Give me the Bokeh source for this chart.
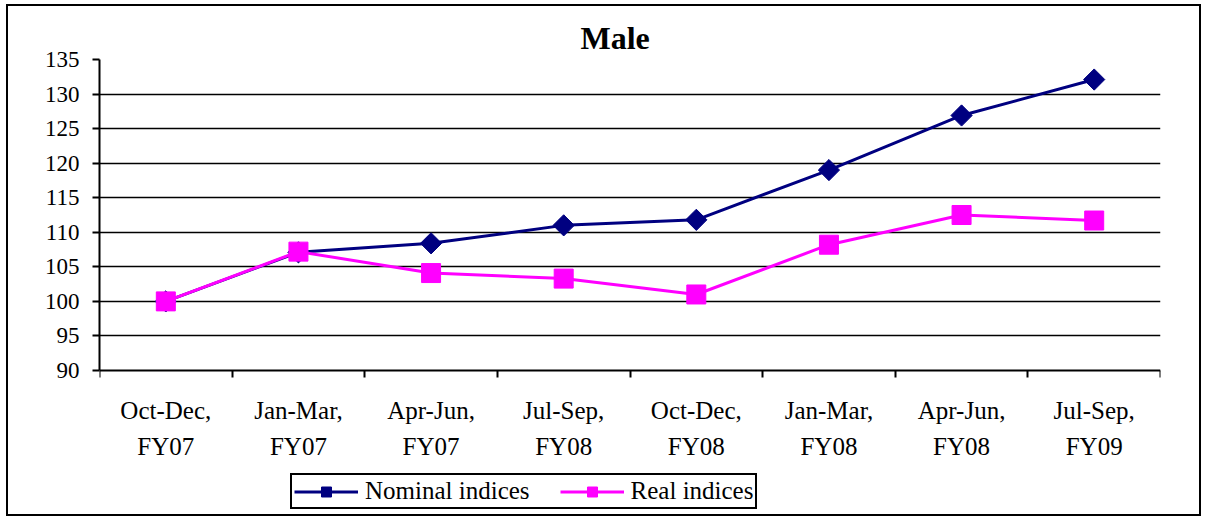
import math
from bokeh.plotting import figure
from bokeh.models import (ColumnDataSource, FixedTicker, Legend, LegendItem, Range1d, Grid)
from bokeh.embed import file_html
from bokeh.resources import INLINE

categories = ["Oct-Dec,\nFY07", "Jan-Mar,\nFY07", "Apr-Jun,\nFY07", "Jul-Sep,\nFY08",
              "Oct-Dec,\nFY08", "Jan-Mar,\nFY08", "Apr-Jun,\nFY08", "Jul-Sep,\nFY09"]
nominal = [100.0, 107.1, 108.4, 111.0, 111.8, 119.0, 126.9, 132.1]
real = [100.0, 107.2, 104.1, 103.3, 101.0, 108.2, 112.5, 111.7]
y_ticks = [90, 95, 100, 105, 110, 115, 120, 125, 130, 135]

FONT = "Liberation Serif"
n = len(categories)
xs = [i + 0.5 for i in range(n)]
src = ColumnDataSource(dict(x=xs, nominal=nominal, real=real))

# layout geometry (canvas pixels)
W, H = 1195, 512
TOP, BOTTOM_BORDER = 53, 2
AXIS_PX = 311            # pixel height of the 90..135 band
frame_h = H - TOP - BOTTOM_BORDER
ymin, ymax = y_ticks[0], y_ticks[-1]
y_start = ymax - frame_h * (ymax - ymin) / AXIS_PX

p = figure(width=W, height=H, output_backend="svg", toolbar_location=None,
           x_range=Range1d(0, n), y_range=Range1d(y_start, ymax),
           min_border_left=91, min_border_right=43, min_border_top=TOP,
           min_border_bottom=BOTTOM_BORDER,
           styles={"border": "2px solid black", "margin-left": "6px", "margin-top": "4px"})
p.background_fill_color = "white"
p.border_fill_color = "white"
p.outline_line_color = None

p.title.text = "Male"
p.title.text_font = FONT
p.title.text_font_size = "32px"
p.title.text_font_style = "bold"
p.title.align = "left"
p.title.offset = 481
p.title.text_color = "black"
p.title.standoff = 8

# x axis drawn at y = 90 inside the frame
p.xaxis.fixed_location = ymin
p.xaxis.ticker = FixedTicker(ticks=xs, minor_ticks=list(range(n + 1)))
p.xaxis.major_label_overrides = {x: c for x, c in zip(xs, categories)}
p.xaxis.major_tick_out = 0
p.xaxis.major_tick_in = 0
p.xaxis.minor_tick_out = 7
p.xaxis.minor_tick_in = 0
p.xaxis.minor_tick_line_color = "black"
p.xaxis.minor_tick_line_width = 2
p.xaxis.axis_line_color = "black"
p.xaxis.axis_line_width = 2
p.xaxis.major_label_text_font = FONT
p.xaxis.major_label_text_font_size = "25px"
p.xaxis.major_label_text_color = "black"
p.xaxis.major_label_standoff = 19
p.xaxis.major_label_text_line_height = 1.36

# y axis limited to 90..135
p.yaxis.bounds = (ymin, ymax)
p.yaxis.ticker = FixedTicker(ticks=y_ticks)
p.yaxis.major_tick_out = 7
p.yaxis.major_tick_in = 0
p.yaxis.minor_tick_line_color = None
p.yaxis.major_tick_line_color = "black"
p.yaxis.major_tick_line_width = 2
p.yaxis.axis_line_color = "black"
p.yaxis.axis_line_width = 2
p.yaxis.major_label_text_font = FONT
p.yaxis.major_label_text_font_size = "23px"
p.yaxis.major_label_text_color = "black"
p.yaxis.major_label_standoff = 13

p.xgrid.grid_line_color = None
p.ygrid.ticker = FixedTicker(ticks=y_ticks[1:-1])
p.ygrid.bounds = (0, n)
p.ygrid.grid_line_color = "black"
p.ygrid.grid_line_width = 1.6

# gray plot-area border (top and right)
p.add_layout(Grid(dimension=1, ticker=FixedTicker(ticks=[ymax]), bounds=(0, n),
                  grid_line_color="#808080", grid_line_width=2))
p.add_layout(Grid(dimension=0, ticker=FixedTicker(ticks=[n]), bounds=(ymin, ymax),
                  grid_line_color="#808080", grid_line_width=2))

nl = p.line("x", "nominal", source=src, line_color="#000080", line_width=3)
nm = p.scatter("x", "nominal", source=src, marker="square", angle=math.pi / 4,
               size=15, fill_color="#000080", line_color="#000080")
rl = p.line("x", "real", source=src, line_color="#FF00FF", line_width=3)
rm = p.scatter("x", "real", source=src, marker="square", size=19,
               fill_color="#FF00FF", line_color="#FF00FF")

legend = Legend(items=[LegendItem(label="Nominal indices", renderers=[nl, nm]),
                       LegendItem(label="Real indices", renderers=[rl, rm])],
                orientation="horizontal", location=(191, 7))
legend.label_text_font = FONT
legend.label_text_font_size = "25px"
legend.label_text_color = "black"
legend.border_line_color = "black"
legend.border_line_alpha = 1.0
legend.border_line_width = 2
legend.glyph_width = 64
legend.glyph_height = 25
legend.label_standoff = 7
legend.spacing = 30
legend.padding = 2
legend.margin = 0
legend.label_height = 25
p.add_layout(legend, "center")

open("out.html", "w").write(file_html(p, INLINE))
